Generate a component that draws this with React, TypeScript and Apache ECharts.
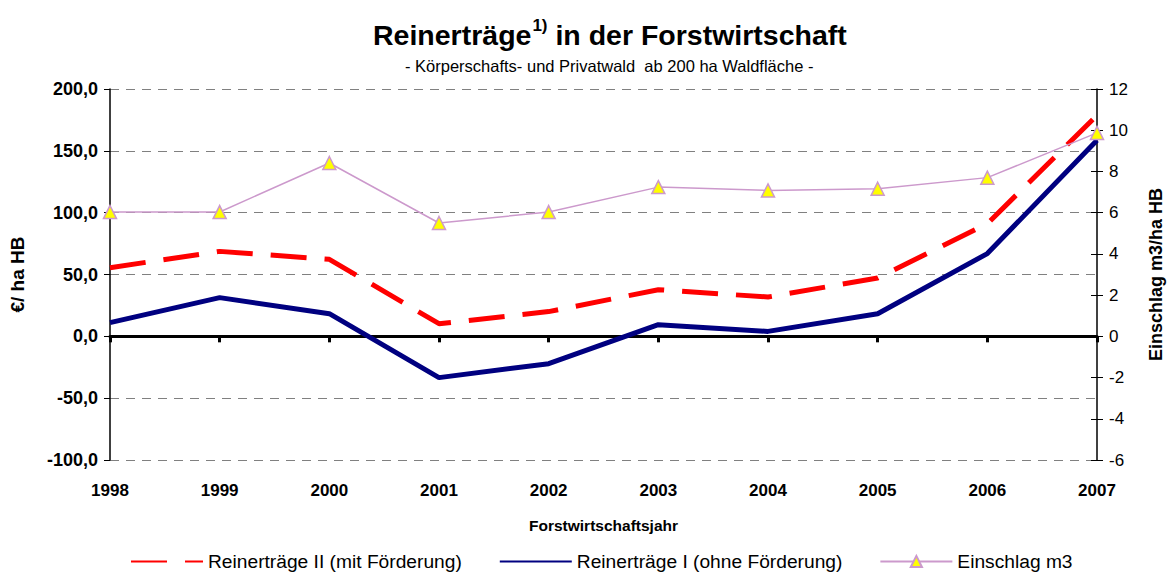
import React, { useEffect, useRef } from "react";
import * as echarts from "echarts";

const years = ["1998", "1999", "2000", "2001", "2002", "2003", "2004", "2005", "2006", "2007"];
const reinertraegeII = [55.5, 68.7, 62.3, 10.2, 20.0, 37.7, 31.8, 47.2, 91.1, 178.7];
const reinertraegeI = [11.1, 31.3, 18.3, -33.4, -22.1, 9.4, 4.0, 18.3, 66.9, 158.5];
const einschlag = [6.03, 6.03, 8.41, 5.5, 6.03, 7.24, 7.08, 7.16, 7.7, 9.87];

const FONT = "'Liberation Sans', Arial, sans-serif";

export default function App() {
  const ref = useRef<HTMLDivElement>(null);
  useEffect(() => {
    if (!ref.current) return;
    const chart = echarts.init(ref.current, undefined, { renderer: "svg" });
    chart.setOption({
      animation: false,
      backgroundColor: "#ffffff",
      textStyle: { fontFamily: FONT },
      title: [
        {
          text: "{a|Reinerträge}{s|1)}{a| in der Forstwirtschaft}",
          left: 368,
          top: 12,
          textStyle: {
            rich: {
              a: { fontFamily: FONT, fontSize: 28.5, fontWeight: "bold", color: "#000", lineHeight: 32, verticalAlign: "bottom" },
              s: { fontFamily: FONT, fontSize: 17, fontWeight: "bold", color: "#000", lineHeight: 32, verticalAlign: "top", padding: [0, 0, 14, 1] },
            },
          },
        },
        {
          text: "- Körperschafts- und Privatwald  ab 200 ha Waldfläche -",
          left: 400,
          top: 52,
          textStyle: { fontFamily: FONT, fontSize: 16.5, fontWeight: "normal", color: "#000" },
        },
      ],
      legend: {
        top: 547,
        left: 125,
        itemWidth: 72,
        itemHeight: 14,
        itemGap: 37,
        textStyle: { fontFamily: FONT, fontSize: 19.2, color: "#000", padding: [0, 0, 0, 0] },
        data: [
          { name: "Reinerträge II (mit Förderung)", itemStyle: { opacity: 0 } },
          { name: "Reinerträge I (ohne Förderung)", itemStyle: { opacity: 0 } },
          { name: "Einschlag m3" },
        ],
      },
      grid: { left: 110, right: 66, top: 89, bottom: 115, containLabel: false },
      xAxis: [
        {
          type: "category",
          data: years,
          boundaryGap: false,
          position: "bottom",
          axisLine: { show: false, onZero: false },
          axisTick: { show: false },
          axisLabel: { fontFamily: FONT, fontSize: 17, fontWeight: "bold", color: "#000", margin: 22 },
          name: "Forstwirtschaftsjahr",
          nameLocation: "middle",
          nameGap: 57,
          nameTextStyle: { fontFamily: FONT, fontSize: 15.5, fontWeight: "bold", color: "#000" },
          splitLine: { show: false },
        },
        {
          type: "category",
          data: years,
          boundaryGap: false,
          position: "top",
          axisLine: { show: true, onZero: true, onZeroAxisIndex: 0, lineStyle: { color: "#000", width: 3 } },
          axisTick: { show: true, inside: true, length: 6, alignWithLabel: true, lineStyle: { color: "#000", width: 3 } },
          axisLabel: { show: false },
          splitLine: { show: false },
        },
      ],
      yAxis: [
        {
          type: "value",
          min: -100,
          max: 200,
          interval: 50,
          position: "left",
          axisLine: { show: true, onZero: false, lineStyle: { color: "#000", width: 1.5 } },
          axisTick: { show: true, length: 6, lineStyle: { color: "#000" } },
          axisLabel: {
            fontFamily: FONT,
            fontSize: 18,
            fontWeight: "bold",
            color: "#000",
            margin: 12,
            formatter: (v: number) => v.toFixed(1).replace(".", ","),
          },
          splitLine: { show: true, lineStyle: { color: "#808080", type: [9, 7], width: 1 } },
          name: "€/ ha HB",
          nameLocation: "middle",
          nameGap: 83,
          nameTextStyle: { fontFamily: FONT, fontSize: 19, fontWeight: "bold", color: "#000" },
        },
        {
          type: "value",
          min: -6,
          max: 12,
          interval: 2,
          position: "right",
          axisLine: { show: true, onZero: false, lineStyle: { color: "#000", width: 1.5 } },
          axisTick: { show: true, length: 6, lineStyle: { color: "#000" } },
          axisLabel: { fontFamily: FONT, fontSize: 17, color: "#000", margin: 12 },
          splitLine: { show: false },
          name: "Einschlag m3/ha HB",
          nameLocation: "middle",
          nameGap: 50,
          nameTextStyle: { fontFamily: FONT, fontSize: 18, fontWeight: "bold", color: "#000" },
        },
        {
          type: "value",
          min: -6,
          max: 12,
          interval: 2,
          position: "right",
          offset: 0,
          axisLine: { show: false, onZero: false },
          axisTick: { show: true, inside: true, length: 6, lineStyle: { color: "#000" } },
          axisLabel: { show: false },
          splitLine: { show: false },
        },
      ],
      series: [
        {
          name: "Reinerträge II (mit Förderung)",
          type: "line",
          xAxisIndex: 0,
          yAxisIndex: 0,
          data: reinertraegeII,
          symbol: "none",
          lineStyle: { color: "#ff0000", width: 5, type: [36, 18] },
          itemStyle: { color: "#ff0000" },
          z: 3,
        },
        {
          name: "Reinerträge I (ohne Förderung)",
          type: "line",
          xAxisIndex: 0,
          yAxisIndex: 0,
          data: reinertraegeI,
          symbol: "none",
          lineStyle: { color: "#000080", width: 5 },
          itemStyle: { color: "#000080" },
          z: 3,
        },
        {
          name: "Einschlag m3",
          type: "line",
          xAxisIndex: 0,
          yAxisIndex: 1,
          data: einschlag,
          symbol: "triangle",
          symbolSize: 13,
          lineStyle: { color: "#cc99cc", width: 1.5 },
          itemStyle: { color: "#ffff00", borderColor: "#cc99cc", borderWidth: 1.5 },
          z: 4,
        },
      ],
    });
    return () => chart.dispose();
  }, []);
  return <div ref={ref} style={{ position: "fixed", left: 0, top: 0, width: 1173, height: 575 }} />;
}
